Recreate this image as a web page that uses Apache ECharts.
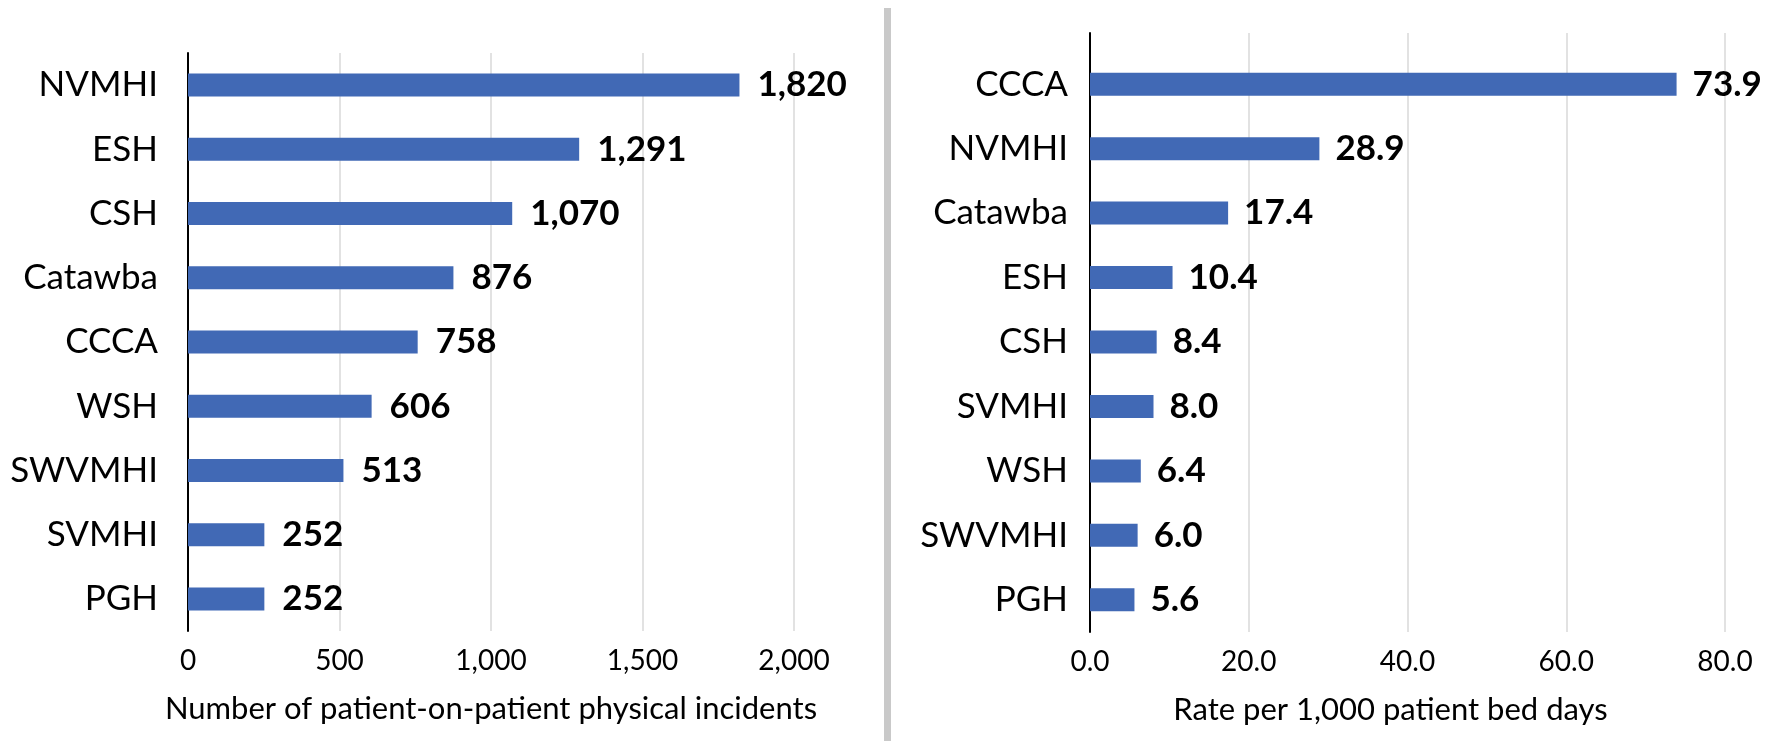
<!DOCTYPE html>
<html>
<head>
<meta charset="utf-8">
<script src="https://cdn.jsdelivr.net/npm/echarts@6/dist/echarts.min.js"></script>
<style>
  html, body { margin: 0; padding: 0; background: #fff; }
  #chart { width: 1777px; height: 741px; }
</style>
</head>
<body>
<div id="chart"></div>
<script>
// left panel: incident counts
const countCategories = ['NVMHI', 'ESH', 'CSH', 'Catawba', 'CCCA', 'WSH', 'SWVMHI', 'SVMHI', 'PGH'];
const countValues = [1820, 1291, 1070, 876, 758, 606, 513, 252, 252];
const countTicks = [0, 500, 1000, 1500, 2000];

// right panel: rate per 1,000 bed days
const rateCategories = ['CCCA', 'NVMHI', 'Catawba', 'ESH', 'CSH', 'SVMHI', 'WSH', 'SWVMHI', 'PGH'];
const rateValues = [73.9, 28.9, 17.4, 10.4, 8.4, 8.0, 6.4, 6.0, 5.6];
const rateTicks = [0, 20, 40, 60, 80];

const FONT = 'Lato';
const BAR = '#4169B5';

const chart = echarts.init(document.getElementById('chart'));

const fmtComma = v => Number(v).toLocaleString('en-US');
const fmtOne = v => Number(v).toFixed(1);

const option = {
    backgroundColor: '#fff',
    animation: false,
    textStyle: { fontFamily: FONT },
    graphic: [
        // divider between the two panels
        { type: 'rect', shape: { x: 884, y: 8, width: 7, height: 733 }, style: { fill: '#c9c9c9' } }
    ],
    grid: [
        { left: 188, right: 983, top: 53, bottom: 110 },
        { left: 1090, right: 52, top: 33, bottom: 109 },   // frame: axis line + gridlines
        { left: 1090, right: 52, top: 52, bottom: 109 }    // bars
    ],
    xAxis: [
        {
            gridIndex: 0, type: 'value', min: countTicks[0], max: countTicks[countTicks.length - 1], interval: 500,
            axisLine: { show: false }, axisTick: { show: false },
            splitLine: { lineStyle: { color: '#d9d9d9', width: 1.5 } },
            axisLabel: { formatter: fmtComma, fontSize: 28, color: '#000', margin: 16, fontFamily: FONT },
            name: 'Number of patient-on-patient physical incidents', nameLocation: 'middle', nameGap: 62,
            nameTextStyle: { fontSize: 31, color: '#000', fontFamily: FONT }
        },
        {
            gridIndex: 1, type: 'value', min: rateTicks[0], max: rateTicks[rateTicks.length - 1], interval: 20,
            axisLine: { show: false }, axisTick: { show: false },
            splitLine: { lineStyle: { color: '#d9d9d9', width: 1.5 } },
            axisLabel: { formatter: fmtOne, fontSize: 28, color: '#000', margin: 16, fontFamily: FONT },
            name: 'Rate per 1,000 patient bed days', nameLocation: 'middle', nameGap: 62,
            nameTextStyle: { fontSize: 31, color: '#000', fontFamily: FONT, padding: [0, 34, 0, 0] }
        },
        {
            gridIndex: 2, type: 'value', min: 0, max: 80, show: false
        }
    ],
    yAxis: [
        {
            gridIndex: 0, type: 'category', data: countCategories, inverse: true,
            axisLine: { lineStyle: { color: '#000', width: 2 } }, axisTick: { show: false },
            axisLabel: { fontSize: 35, color: '#000', margin: 30, fontFamily: FONT }
        },
        {
            gridIndex: 1, type: 'value', min: 0, max: 1,
            axisLine: { show: true, lineStyle: { color: '#000', width: 2 } }, axisTick: { show: false },
            axisLabel: { show: false }, splitLine: { show: false }
        },
        {
            gridIndex: 2, type: 'category', data: rateCategories, inverse: true,
            axisLine: { show: false }, axisTick: { show: false },
            axisLabel: { fontSize: 35, color: '#000', margin: 22, fontFamily: FONT }
        }
    ],
    series: [
        {
            type: 'bar', xAxisIndex: 0, yAxisIndex: 0, data: countValues, barWidth: 23,
            itemStyle: { color: BAR },
            label: {
                show: true, position: 'right', distance: 18, formatter: p => fmtComma(p.value),
                fontSize: 35, fontWeight: 'bold', color: '#000', fontFamily: FONT
            }
        },
        {
            type: 'bar', xAxisIndex: 2, yAxisIndex: 2, data: rateValues, barWidth: 23,
            itemStyle: { color: BAR },
            label: {
                show: true, position: 'right', distance: 16, formatter: p => fmtOne(p.value),
                fontSize: 35, fontWeight: 'bold', color: '#000', fontFamily: FONT
            }
        }
    ]
};

chart.setOption(option);
</script>
</body>
</html>
